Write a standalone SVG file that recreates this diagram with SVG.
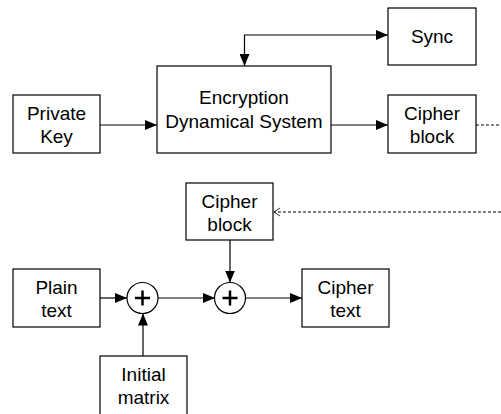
<svg xmlns="http://www.w3.org/2000/svg" width="501" height="414" viewBox="0 0 501 414">
<defs>
<style>
.box{fill:#fff;stroke:#000;stroke-width:1.2}
.t{font-family:"Liberation Sans",Arial,sans-serif;font-size:19px;fill:#000;text-anchor:middle}
.c{fill:none;stroke:#000;stroke-width:1.2}
.d{fill:none;stroke:#000;stroke-width:1;stroke-dasharray:3,2}
.op{fill:#fff;stroke:#000;stroke-width:1.2}
.plus{fill:none;stroke:#000;stroke-width:2.5}
</style>
<marker id="ar" markerWidth="12" markerHeight="10" refX="12" refY="5" orient="auto" markerUnits="userSpaceOnUse">
<path d="M0,0 L12,5 L0,10 Z" fill="#000"/>
</marker>
<marker id="op" markerWidth="8" markerHeight="10" refX="7" refY="5" orient="auto" markerUnits="userSpaceOnUse">
<path d="M1,1 L7,5 L1,9" fill="none" stroke="#000" stroke-width="0.8"/>
</marker>
</defs>
<rect width="501" height="414" fill="#fff"/>
<g id="connectors">
<path class="c" d="M100,125 H157" marker-end="url(#ar)"/>
<path class="c" d="M331,125 H388" marker-end="url(#ar)"/>
<path class="c" d="M316,35 H244.5 V66" marker-end="url(#ar)"/>
<path class="c" d="M316,35 H388" marker-end="url(#ar)"/>
<path class="d" d="M476,125 H501"/>
<path class="d" d="M501,212 H274" marker-end="url(#op)"/>
<path class="c" d="M100,298 H127" marker-end="url(#ar)"/>
<path class="c" d="M158,298 H215" marker-end="url(#ar)"/>
<path class="c" d="M245,298 H302" marker-end="url(#ar)"/>
<path class="c" d="M230,240 V282.5" marker-end="url(#ar)"/>
<path class="c" d="M143,356 V313.5" marker-end="url(#ar)"/>
</g>
<g id="sync"><rect class="box" x="388" y="8" width="88" height="57"/><text class="t" x="432" y="43">Sync</text></g>
<g id="eds"><rect class="box" x="157" y="66" width="174" height="87"/><text class="t" x="244" y="104">Encryption</text><text class="t" x="244" y="128">Dynamical System</text></g>
<g id="privatekey"><rect class="box" x="13" y="95" width="87" height="58"/><text class="t" x="56.5" y="120">Private</text><text class="t" x="56.5" y="143">Key</text></g>
<g id="cipherblock1"><rect class="box" x="388" y="95" width="88" height="58"/><text class="t" x="432" y="120">Cipher</text><text class="t" x="432" y="143">block</text></g>
<g id="cipherblock2"><rect class="box" x="186" y="183" width="87" height="57"/><text class="t" x="229.5" y="208">Cipher</text><text class="t" x="229.5" y="231">block</text></g>
<g id="plaintext"><rect class="box" x="13" y="269" width="87" height="58"/><text class="t" x="56.5" y="294">Plain</text><text class="t" x="56.5" y="317">text</text></g>
<g id="ciphertext"><rect class="box" x="302" y="269" width="87" height="58"/><text class="t" x="345.5" y="294">Cipher</text><text class="t" x="345.5" y="317">text</text></g>
<g id="initialmatrix"><rect class="box" x="100" y="356" width="87" height="70"/><text class="t" x="143.5" y="381">Initial</text><text class="t" x="143.5" y="404">matrix</text></g>
<g id="xor1"><circle class="op" cx="142.5" cy="298" r="15.5"/><path class="plus" d="M135,298 H150 M142.5,290.5 V305.5"/></g>
<g id="xor2"><circle class="op" cx="230" cy="298" r="15.5"/><path class="plus" d="M222.5,298 H237.5 M230,290.5 V305.5"/></g>
</svg>
